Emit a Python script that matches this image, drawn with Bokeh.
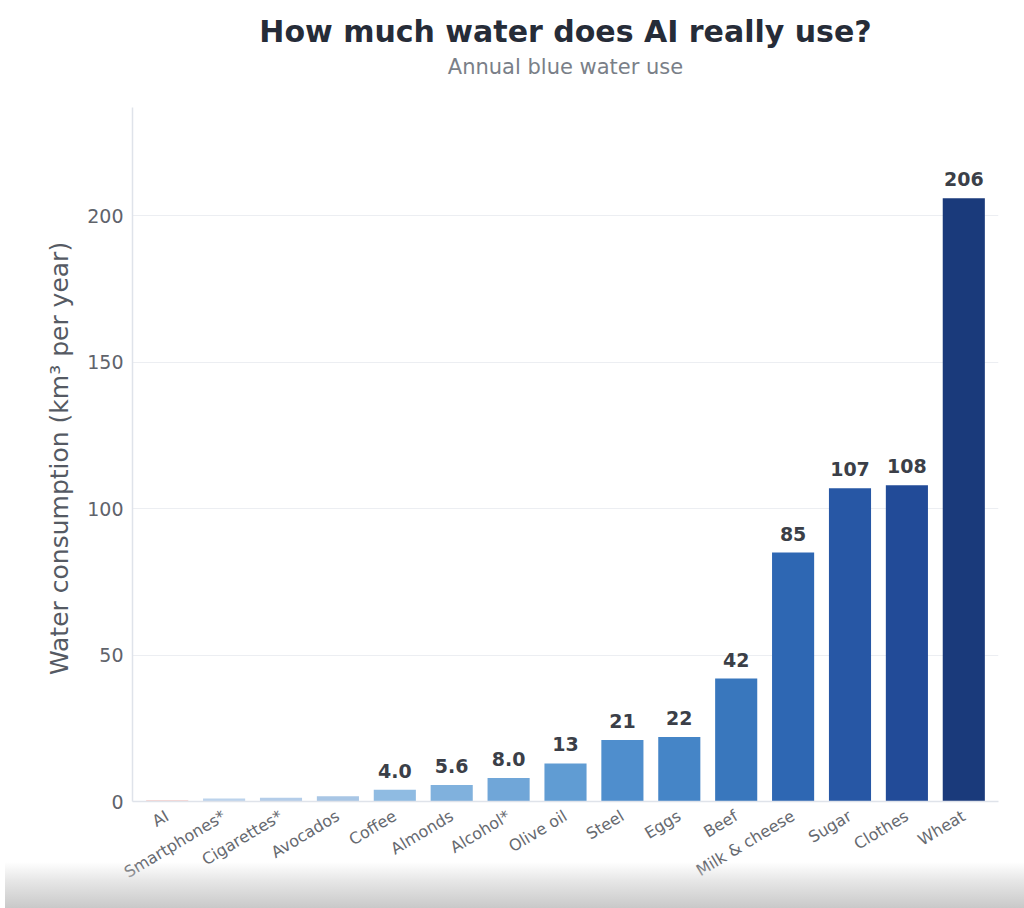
import math

from bokeh.core.properties import value
from bokeh.embed import file_html
from bokeh.layouts import column
from bokeh.models import ColumnDataSource, Div, FactorRange, LabelSet, Range1d, Title
from bokeh.plotting import figure
from bokeh.resources import INLINE

# Annual blue water use, km³ per year
categories = ["AI", "Smartphones*", "Cigarettes*", "Avocados", "Coffee", "Almonds",
              "Alcohol*", "Olive oil", "Steel", "Eggs", "Beef", "Milk & cheese",
              "Sugar", "Clothes", "Wheat"]
values = [0.3, 1.0, 1.3, 1.8, 4.0, 5.6, 8.0, 13, 21, 22, 42, 85, 107, 108, 206]
bar_colors = ["#f2aaa2", "#bcd3ec", "#b4cde9", "#a8c6e5", "#8fbbe2", "#80b1dd",
              "#70a6d8", "#609cd3", "#4f8ecd", "#4585c7", "#3977bd", "#2e67b3",
              "#2757a5", "#224b98", "#1a3a7b"]
y_ticks = [0, 50, 100, 150, 200]

FONT = "DejaVu Sans"


def fmt(v):
    return f"{v:.1f}" if v < 10 else f"{v:.0f}"


labels = [fmt(v) if v >= 4 else "" for v in values]

source = ColumnDataSource(dict(cat=categories, val=values, color=bar_colors, label=labels))

p = figure(
    width=1024, height=908,
    x_range=FactorRange(factors=categories, range_padding=0.22 / 15),
    y_range=Range1d(0, 237),
    output_backend="svg", toolbar_location=None,
    min_border_left=132, min_border_right=26, min_border_top=107, min_border_bottom=107,
    background_fill_color="white", border_fill_color="white",
)
p.title.visible = False

# header block, stacked outward from the plot frame: gap, subtitle, title
p.add_layout(Title(text=" ", text_font_size="1px", standoff=22), "above")
p.add_layout(Title(text="Annual blue water use", align="center", text_font=FONT,
                   text_font_size="21px", text_font_style="normal",
                   text_color="#7a7f88", standoff=8), "above")
p.add_layout(Title(text="How much water does AI really use?", align="center", text_font=FONT,
                   text_font_size="30px", text_font_style="bold",
                   text_color="#262c38", standoff=0), "above")

p.vbar(x="cat", top="val", width=0.74, color="color", line_color=None, source=source)

p.add_layout(LabelSet(x="cat", y="val", text="label", source=source, y_offset=12,
                      text_align="center", text_baseline="bottom",
                      text_font=value(FONT), text_font_size="19px",
                      text_font_style="bold", text_color="#3b3f48"))

p.outline_line_color = None
p.xgrid.grid_line_color = None
p.ygrid.grid_line_color = "#eceef2"
p.ygrid.ticker = y_ticks

p.yaxis.ticker = y_ticks
p.yaxis.axis_label = "Water consumption  (km³ per year)"
p.yaxis.axis_label_text_font = FONT
p.yaxis.axis_label_text_font_size = "25px"
p.yaxis.axis_label_text_font_style = "normal"
p.yaxis.axis_label_text_color = "#555a63"
p.yaxis.axis_label_standoff = 10
p.yaxis.major_label_standoff = 9

p.xaxis.major_label_orientation = math.radians(31)
p.xaxis.major_label_standoff = 13

for ax in (p.xaxis, p.yaxis):
    ax.axis_line_color = "#dfe3ea"
    ax.axis_line_width = 1.5
    ax.major_tick_line_color = None
    ax.minor_tick_line_color = None
    ax.major_tick_out = 0
    ax.major_tick_in = 0
    ax.major_label_text_font = FONT
    ax.major_label_text_color = "#5f636b"

p.yaxis.major_label_text_font_size = "19px"
p.xaxis.major_label_text_font_size = "16px"
p.xaxis.major_label_text_color = "#66696f"

# soft grey band laid over the foot of the page
shade = Div(width=1024, height=46, styles={
    "margin-top": "-46px",
    "position": "relative",
    "z-index": "5",
    "pointer-events": "none",
    "background": "linear-gradient(to bottom, rgba(230,230,230,0) 0%, rgba(215,215,215,0.6) 40%, rgba(195,195,195,0.9) 100%)",
})

layout = column(p, shade, spacing=0)

open("out.html", "w").write(file_html(layout, INLINE))
